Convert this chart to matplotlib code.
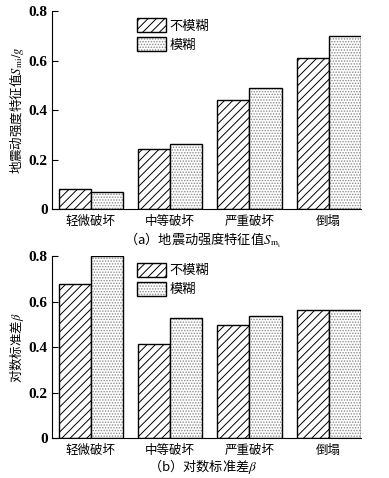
import numpy as np
import matplotlib
matplotlib.use('Agg')
import matplotlib.pyplot as plt

plt.rcParams['font.family'] = ['Noto Sans CJK SC', 'DejaVu Sans']
plt.rcParams['mathtext.fontset'] = 'stix'
plt.rcParams['hatch.linewidth'] = 0.7

categories = ['轻微破坏', '中等破坏', '严重破坏', '倒塌']
series_names = ['不模糊', '模糊']
sm_crisp = [0.083, 0.245, 0.441, 0.612]
sm_fuzzy = [0.069, 0.262, 0.489, 0.698]
beta_crisp = [0.677, 0.413, 0.497, 0.563]
beta_fuzzy = [0.803, 0.527, 0.539, 0.563]
yticks = [0, 0.2, 0.4, 0.6, 0.8]
yticklabels = ['0', '0.2', '0.4', '0.6', '0.8']

fig = plt.figure(figsize=(3.89, 4.78), dpi=100)
ax1 = fig.add_axes([0.1337, 0.562, 0.794, 0.415])
ax2 = fig.add_axes([0.1337, 0.083, 0.794, 0.381])

x = np.arange(len(categories))
w = 0.405
tickfont = dict(family='Liberation Serif', weight='bold', size=11)


def draw(ax, crisp, fuzzy, ylabel, legend_y):
    b1 = ax.bar(x - w / 2, crisp, w, facecolor='white', edgecolor='black',
                hatch='////', linewidth=1.0)
    f2 = ax.bar(x + w / 2, fuzzy, w, facecolor='white', edgecolor='#8a8a8a',
                hatch='......', linewidth=0)
    o2 = ax.bar(x + w / 2, fuzzy, w, fill=False, edgecolor='black',
                linewidth=1.0)
    ax.set_xlim(-0.49, 3.405)
    ax.set_ylim(0, 0.8)
    ax.spines['top'].set_visible(False)
    ax.spines['right'].set_visible(False)
    ax.set_yticks(yticks)
    ax.set_yticklabels(yticklabels, fontdict=tickfont)
    ax.tick_params(axis='y', direction='in', length=4, pad=3)
    ax.set_xticks(x)
    ax.set_xticklabels(categories, fontsize=9)
    ax.tick_params(axis='x', length=0, pad=4)
    ax.set_ylabel(ylabel, fontsize=9)
    ax.yaxis.set_label_coords(-0.085, 0.5)
    leg = ax.legend([b1[0], (f2[0], o2[0])], series_names, loc='upper left',
                    bbox_to_anchor=(0.245, legend_y), frameon=False,
                    fontsize=9.5, handlelength=2.2, handleheight=1.25,
                    handletextpad=0.3, labelspacing=0.35, borderpad=0.2)
    return leg


draw(ax1, sm_crisp, sm_fuzzy, '地震动强度特征值$S_{\\mathrm{mi}}/g$', 1.01)
draw(ax2, beta_crisp, beta_fuzzy, '对数标准差$\\beta$', 1.015)

fig.text(0.52, 0.497, '（a）地震动强度特征值$S_{\\mathrm{m_i}}$', ha='center',
         va='center', fontsize=9.5)
fig.text(0.52, 0.024, '（b）对数标准差$\\beta$', ha='center', va='center',
         fontsize=9.5)

fig.savefig('out.png', dpi=100)
